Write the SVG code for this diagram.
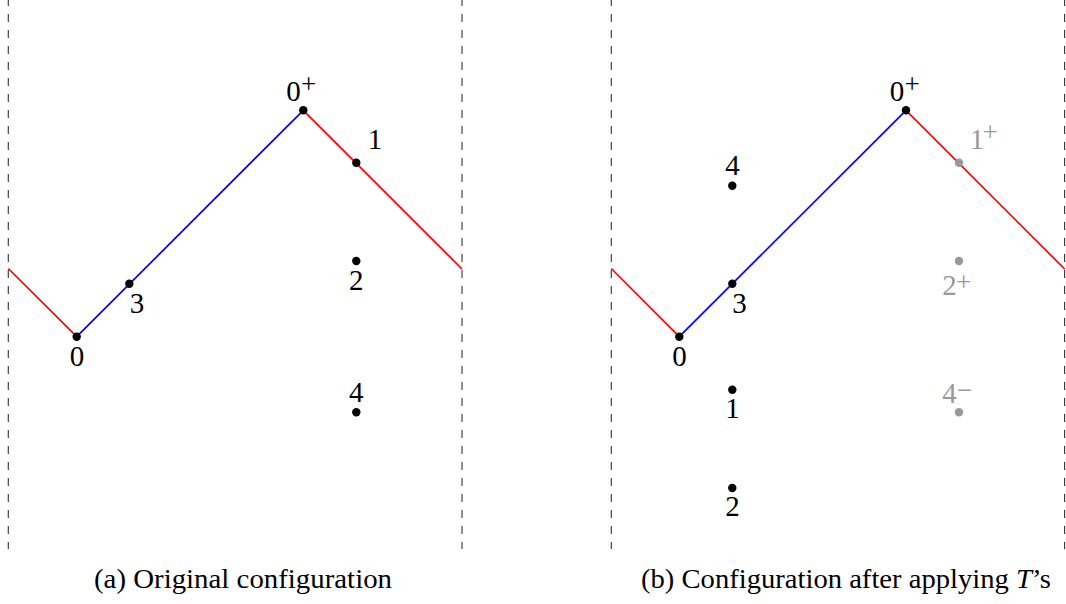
<svg xmlns="http://www.w3.org/2000/svg" width="1066" height="604" viewBox="0 0 1066 604">
<style>
.bd{stroke:#333;stroke-width:1.1;stroke-dasharray:8 8;fill:none}
.r{stroke:#ff0000;stroke-width:1.7;fill:none}
.b{stroke:#0000ff;stroke-width:1.7;fill:none}
.dot{fill:#000}
.gdot{fill:#999}
.t{font-family:'Liberation Serif','Times New Roman',serif;font-size:29px;fill:#000}
.c{text-anchor:middle}
.sup{font-size:27px}
.g{fill:#999}
.cap{font-size:28px}
</style>
<rect width="1066" height="604" fill="#fff"/>
<g id="connectors">
<line class="bd" x1="8.3" y1="-2" x2="8.3" y2="549"/>
<line class="bd" x1="462" y1="-2" x2="462" y2="549"/>
<line class="bd" x1="611.3" y1="-2" x2="611.3" y2="549"/>
<line class="bd" x1="1064.6" y1="-2" x2="1064.6" y2="549"/>
<polyline class="r" points="8.3,268.5 76.7,336.7"/>
<polyline class="b" points="76.7,336.7 303.3,110.3"/>
<polyline class="r" points="303.3,110.3 462,269"/>
<polyline class="r" points="611.3,268.5 679.3,336.7"/>
<polyline class="b" points="679.3,336.7 906,110.3"/>
<polyline class="r" points="906,110.3 1064.6,269"/>
</g>
<g id="a-n0"><circle class="dot" cx="76.7" cy="336.7" r="4.2"/><text class="t c" x="77" y="366">0</text></g>
<g id="a-n3"><circle class="dot" cx="129.3" cy="283.7" r="4.2"/><text class="t c" x="137" y="313">3</text></g>
<g id="a-n0p"><circle class="dot" cx="303.3" cy="110.3" r="4.2"/><text class="t c" x="293.5" y="101">0</text><text class="t sup" x="301" y="93">+</text></g>
<g id="a-n1"><circle class="dot" cx="356.3" cy="162.7" r="4.2"/><text class="t c" x="375" y="149">1</text></g>
<g id="a-n2"><circle class="dot" cx="356.3" cy="261" r="4.2"/><text class="t c" x="356.3" y="290">2</text></g>
<g id="a-n4"><circle class="dot" cx="356.3" cy="412.3" r="4.2"/><text class="t c" x="356.3" y="402">4</text></g>
<g id="b-n0"><circle class="dot" cx="679.3" cy="336.7" r="4.2"/><text class="t c" x="679.5" y="366">0</text></g>
<g id="b-n3"><circle class="dot" cx="732.3" cy="283.7" r="4.2"/><text class="t c" x="739.5" y="313">3</text></g>
<g id="b-n0p"><circle class="dot" cx="906" cy="110.3" r="4.2"/><text class="t c" x="897" y="101">0</text><text class="t sup" x="904.5" y="93">+</text></g>
<g id="b-n4"><circle class="dot" cx="732.3" cy="185.7" r="4.2"/><text class="t c" x="732.5" y="175">4</text></g>
<g id="b-n1"><circle class="dot" cx="732.3" cy="389.7" r="4.2"/><text class="t c" x="732.5" y="418">1</text></g>
<g id="b-n2"><circle class="dot" cx="732.3" cy="488" r="4.2"/><text class="t c" x="732.5" y="516">2</text></g>
<g id="b-n1p"><circle class="gdot" cx="959" cy="162.7" r="4.2"/><text class="t c g" x="977" y="149">1</text><text class="t sup g" x="982.5" y="141">+</text></g>
<g id="b-n2p"><circle class="gdot" cx="959" cy="261" r="4.2"/><text class="t c g" x="949.5" y="295">2</text><text class="t sup g" x="956" y="291">+</text></g>
<g id="b-n4m"><circle class="gdot" cx="959" cy="412.3" r="4.2"/><text class="t c g" x="949.5" y="402.5">4</text><text class="t sup g" x="957" y="399">−</text></g>
<g id="captions">
<text class="t cap" x="94" y="588" textLength="298" lengthAdjust="spacingAndGlyphs">(a) Original configuration</text>
<text class="t cap" x="641" y="588" textLength="410" lengthAdjust="spacingAndGlyphs">(b) Configuration after applying <tspan font-style="italic">T</tspan>’s</text>
</g>
</svg>
